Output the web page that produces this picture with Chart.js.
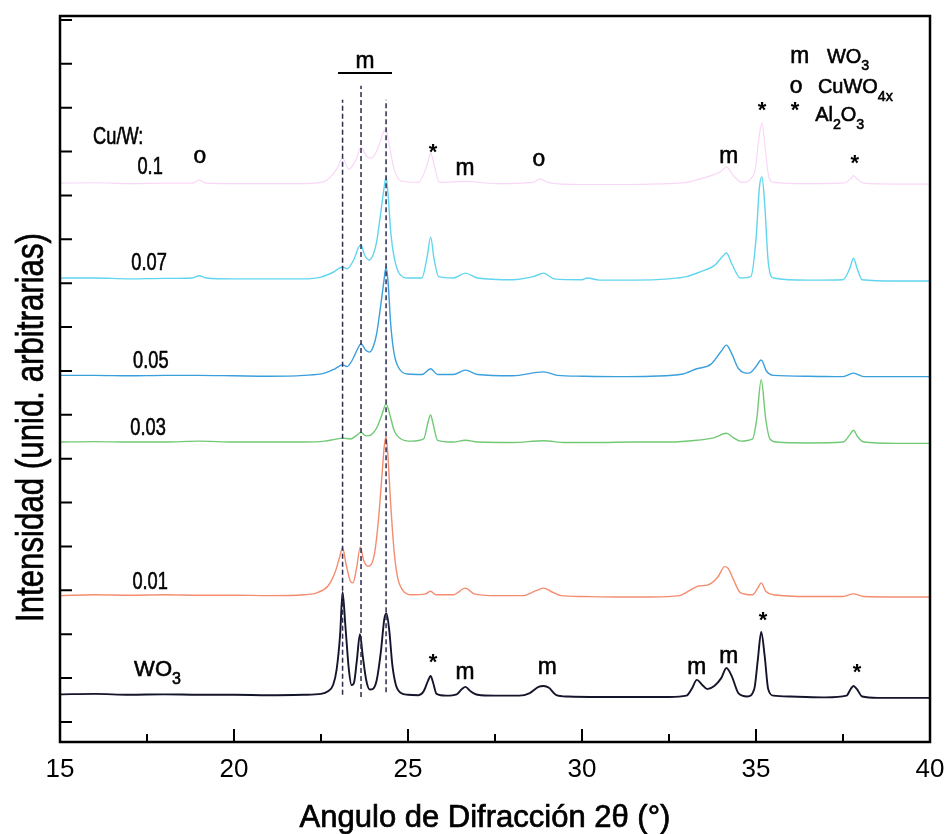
<!DOCTYPE html>
<html>
<head>
<meta charset="utf-8">
<script src="https://cdn.jsdelivr.net/npm/chart.js@4.4.1/dist/chart.umd.min.js"></script>
<style>
  html, body { margin: 0; padding: 0; background: #fff; }
  #wrap { width: 946px; height: 834px; }
</style>
</head>
<body>
<div id="wrap"><canvas id="xrd" width="946" height="834"></canvas></div>
<script>
// Difractogramas desplazados verticalmente, [2θ, intensidad]
const pWO3 = [[15,0.63],[16,0.64],[17,0.62],[18,0.63],[19,0.62],[20,0.62],[21,0.61],[22,0.62],[22.5,0.64],[22.7,0.7],[22.85,0.85],[22.95,1.2],[23.05,2.0],[23.12,2.96],[23.2,2.2],[23.3,1.2],[23.38,0.84],[23.45,0.9],[23.53,1.4],[23.62,2.0],[23.7,1.5],[23.8,0.95],[23.9,0.74],[24.0,0.76],[24.1,0.95],[24.22,1.6],[24.32,2.35],[24.38,2.48],[24.46,2.1],[24.55,1.3],[24.65,0.85],[24.8,0.66],[25.0,0.62],[25.3,0.61],[25.45,0.7],[25.58,0.95],[25.65,1.05],[25.72,0.9],[25.82,0.64],[26.1,0.6],[26.4,0.63],[26.55,0.75],[26.65,0.8],[26.8,0.7],[27.0,0.62],[27.5,0.6],[28.2,0.6],[28.5,0.66],[28.75,0.8],[28.9,0.82],[29.05,0.78],[29.25,0.62],[29.6,0.58],[30.5,0.57],[31.5,0.57],[32.5,0.57],[33.0,0.6],[33.15,0.75],[33.3,0.96],[33.45,0.85],[33.6,0.75],[33.8,0.82],[34.0,1.0],[34.15,1.23],[34.3,1.05],[34.5,0.65],[34.75,0.58],[34.95,0.75],[35.05,1.4],[35.15,2.05],[35.25,1.5],[35.35,0.75],[35.5,0.6],[36,0.58],[37.0,0.56],[37.6,0.6],[37.72,0.75],[37.8,0.82],[37.9,0.75],[38.05,0.58],[38.5,0.55],[39,0.55],[40,0.55]];
const p001 = [[15,2.88],[16,2.9],[17,2.89],[18,2.9],[19,2.89],[20,2.89],[21,2.88],[22,2.9],[22.4,2.95],[22.7,3.1],[22.9,3.4],[23.05,3.8],[23.12,3.97],[23.22,3.6],[23.35,3.2],[23.42,3.17],[23.52,3.5],[23.63,3.99],[23.72,3.7],[23.85,3.55],[23.95,3.6],[24.05,3.9],[24.15,4.6],[24.25,5.6],[24.32,6.3],[24.37,6.5],[24.42,6.1],[24.5,5.0],[24.6,3.9],[24.7,3.3],[24.85,3.0],[25.1,2.9],[25.5,2.92],[25.65,2.98],[25.8,2.9],[26.3,2.9],[26.65,3.05],[26.9,2.92],[27.5,2.88],[28.3,2.88],[28.7,3.0],[28.9,3.05],[29.1,2.98],[29.4,2.88],[30,2.86],[31,2.85],[32,2.85],[32.8,2.88],[33.1,3.0],[33.35,3.1],[33.6,3.12],[33.9,3.3],[34.1,3.54],[34.2,3.5],[34.35,3.25],[34.55,2.95],[34.9,2.9],[35.05,3.05],[35.15,3.17],[35.28,2.98],[35.5,2.9],[36.5,2.86],[37.5,2.86],[37.8,2.92],[38.1,2.86],[39,2.85],[40,2.85]];
const p003 = [[15,6.38],[16,6.39],[17,6.38],[18,6.38],[19,6.4],[20,6.38],[21,6.38],[22,6.38],[22.6,6.4],[22.9,6.44],[23.12,6.47],[23.35,6.45],[23.5,6.52],[23.65,6.6],[23.8,6.52],[23.95,6.55],[24.1,6.7],[24.25,7.0],[24.37,7.25],[24.48,7.0],[24.6,6.65],[24.8,6.45],[25.1,6.4],[25.45,6.45],[25.58,6.85],[25.65,7.0],[25.72,6.8],[25.85,6.42],[26.3,6.38],[26.65,6.42],[27,6.38],[28,6.37],[28.9,6.41],[29.5,6.37],[30.5,6.37],[31.5,6.38],[32.5,6.38],[33.3,6.42],[33.8,6.48],[34.15,6.58],[34.35,6.48],[34.55,6.4],[34.9,6.45],[35.02,6.9],[35.15,7.8],[35.28,6.9],[35.4,6.45],[35.6,6.38],[36.5,6.36],[37.5,6.38],[37.7,6.55],[37.8,6.65],[37.92,6.5],[38.1,6.38],[39,6.35],[40,6.35]];
const p005 = [[15,7.9],[16,7.9],[17,7.89],[18,7.9],[19,7.9],[20,7.89],[21,7.88],[22,7.9],[22.6,7.95],[22.9,8.05],[23.12,8.14],[23.25,8.1],[23.4,8.25],[23.55,8.5],[23.65,8.62],[23.78,8.48],[23.9,8.43],[24.0,8.55],[24.1,8.85],[24.2,9.4],[24.3,10.0],[24.37,10.37],[24.43,10.0],[24.5,9.1],[24.6,8.4],[24.75,8.05],[25.0,7.93],[25.4,7.92],[25.65,8.05],[25.85,7.92],[26.3,7.92],[26.65,8.02],[27,7.92],[28,7.89],[28.9,7.98],[29.3,7.9],[30,7.88],[31,7.87],[32,7.88],[32.9,7.93],[33.3,8.05],[33.7,8.15],[34.0,8.45],[34.15,8.59],[34.3,8.4],[34.5,8.05],[34.8,7.95],[35.0,8.1],[35.15,8.25],[35.3,8.0],[35.5,7.9],[36.5,7.88],[37.5,7.87],[37.8,7.95],[38.1,7.87],[39,7.87],[40,7.87]];
const p007 = [[15,10.12],[16,10.12],[17,10.1],[18,10.11],[18.8,10.12],[19.0,10.17],[19.2,10.12],[20,10.1],[21,10.1],[22,10.1],[22.5,10.14],[22.85,10.25],[23.12,10.37],[23.25,10.33],[23.45,10.55],[23.58,10.82],[23.65,10.87],[23.75,10.65],[23.88,10.53],[24.0,10.65],[24.1,10.95],[24.2,11.5],[24.3,12.1],[24.37,12.42],[24.43,12.0],[24.5,11.2],[24.6,10.6],[24.75,10.22],[25.0,10.12],[25.4,10.12],[25.55,10.6],[25.65,11.05],[25.75,10.55],[25.88,10.15],[26.3,10.12],[26.65,10.23],[27,10.12],[28,10.08],[28.6,10.15],[28.9,10.23],[29.2,10.1],[30,10.08],[30.15,10.12],[30.5,10.07],[31.5,10.07],[32.5,10.1],[33.0,10.15],[33.4,10.26],[33.8,10.4],[34.05,10.62],[34.15,10.69],[34.3,10.45],[34.55,10.12],[34.85,10.15],[35.0,11.0],[35.1,12.2],[35.17,12.42],[35.25,11.8],[35.35,10.5],[35.5,10.12],[36.5,10.07],[37.5,10.08],[37.7,10.35],[37.8,10.57],[37.92,10.3],[38.05,10.08],[39,10.05],[40,10.05]];
const p010 = [[15,12.28],[16,12.29],[17,12.27],[18,12.28],[18.8,12.28],[19.0,12.35],[19.2,12.28],[20,12.27],[21,12.27],[22,12.27],[22.6,12.32],[22.95,12.6],[23.12,12.85],[23.3,12.6],[23.5,12.8],[23.65,13.1],[23.8,12.9],[23.95,12.85],[24.15,13.1],[24.3,13.45],[24.37,13.5],[24.45,13.2],[24.6,12.6],[24.8,12.33],[25.3,12.3],[25.55,12.7],[25.65,12.97],[25.75,12.7],[25.9,12.3],[26.65,12.32],[27.5,12.27],[28.6,12.3],[28.8,12.38],[29.0,12.3],[30,12.25],[31,12.25],[32,12.26],[33,12.3],[33.5,12.4],[34.0,12.55],[34.15,12.65],[34.35,12.45],[34.6,12.3],[34.95,12.5],[35.1,13.4],[35.17,13.65],[35.25,13.2],[35.35,12.5],[35.5,12.3],[36.5,12.27],[37.5,12.28],[37.75,12.4],[37.8,12.45],[37.9,12.38],[38.1,12.28],[39,12.26],[40,12.26]];

// líneas de referencia de los picos m (2θ, extremo inferior, extremo superior)
const refAngles = [23.12, 23.65, 24.37];
const refBottoms = [0.62, 0.57, 0.68];
const refTops = [14.18, 14.5, 14.18];
const barSpan = [22.99, 24.54];
const barLevel = 14.79;

const xTicks = [15, 17.5, 20, 22.5, 25, 27.5, 30, 32.5, 35, 37.5, 40];
const yTicks = [0, 1, 2, 3, 4, 5, 6, 7, 8, 9, 10, 11, 12, 13, 14, 15, 16];

// textos: '_' marca subíndice
const curveLabels = ['Cu/W:', '0.1', '0.07', '0.05', '0.03', '0.01', 'WO_3'];
const topMarks = ['o', '*', 'm', 'o', 'm', '*', '*'];
const bottomMarks = ['*', 'm', 'm', 'm', 'm', '*', '*'];
const legendSymbols = ['m', 'o', '*'];
const legendNames = ['WO_3', 'CuWO_4x', 'Al_2O_3'];

// anclas de los textos en coordenadas de datos
const curveLabelAt = [[15.95, 13.33, 'left'], [17.59, 12.63], [17.56, 10.46], [17.61, 8.23], [17.53, 6.7], [17.59, 3.19], [17.13, 1.19, 'left']];
const topMarkAt = [[19.02, 12.92], [25.72, 12.94], [26.64, 12.65], [28.76, 12.85], [34.22, 12.92], [35.17, 13.9], [37.84, 12.69]];
const bottomMarkAt = [[25.72, 1.3], [26.64, 1.16], [29.0, 1.27], [33.3, 1.27], [34.22, 1.52], [35.2, 2.26], [37.9, 1.09]];
const legendAt = [[36.26, 15.2, 37.04, 15.16], [36.15, 14.5, 36.78, 14.47], [36.12, 13.9, 36.7, 13.83]];

const FONT = '"Liberation Sans", Arial, sans-serif';

function drawRich(ctx, str, px, py, size, align, sx) {
  const parts = str.split(/_([0-9a-z-]+)/);
  const fontFor = (sub) => `${sub ? Math.round(size * 0.72) : size}px ${FONT}`;
  let w = 0;
  parts.forEach((p, i) => { ctx.font = fontFor(i % 2 === 1); w += ctx.measureText(p).width; });
  ctx.save();
  ctx.translate(px, py);
  ctx.scale(sx, 1);
  let cx = align === 'left' ? 0 : -w / 2;
  ctx.textAlign = 'left';
  ctx.textBaseline = 'middle';
  ctx.lineWidth = 0.6;
  parts.forEach((p, i) => {
    const sub = i % 2 === 1;
    const dy = sub ? size * 0.45 : 0;
    ctx.font = fontFor(sub);
    ctx.fillText(p, cx, dy);
    ctx.strokeText(p, cx, dy);
    cx += ctx.measureText(p).width;
  });
  ctx.restore();
}

function drawMark(ctx, s, px, py) {
  if (s === '*') {
    // el asterisco se centra por su caja real
    ctx.save();
    ctx.font = `bold 22px ${FONT}`;
    ctx.textAlign = 'center';
    ctx.textBaseline = 'alphabetic';
    const m = ctx.measureText(s);
    const h = m.actualBoundingBoxAscent - m.actualBoundingBoxDescent;
    ctx.fillText(s, px, py + m.actualBoundingBoxAscent - h / 2);
    ctx.restore();
  } else {
    drawRich(ctx, s, px, py + 1, 24, 'center', 0.95);
  }
}

const xrdDecor = {
  id: 'xrdDecor',
  afterDraw(chart) {
    const { ctx, chartArea: a, scales: { x, y } } = chart;
    ctx.save();
    ctx.fillStyle = '#000';
    ctx.strokeStyle = '#000';

    // marco
    ctx.lineWidth = 2.5;
    ctx.strokeRect(a.left, a.top, a.right - a.left, a.bottom - a.top);

    // marcas interiores de los ejes
    ctx.lineWidth = 2;
    ctx.beginPath();
    x.ticks.forEach(t => {
      if (t.value <= x.min || t.value >= x.max) return;
      const px = x.getPixelForValue(t.value);
      const len = t.value % 5 === 0 ? 13 : 8;
      ctx.moveTo(px, a.bottom);
      ctx.lineTo(px, a.bottom - len);
    });
    y.ticks.forEach(t => {
      const py = y.getPixelForValue(t.value);
      ctx.moveTo(a.left, py);
      ctx.lineTo(a.left + 12, py);
    });
    ctx.stroke();

    // etiquetas de las curvas
    curveLabels.forEach((s, i) => {
      const [vx, vy, al] = curveLabelAt[i];
      const isWO = s.startsWith('WO');
      drawRich(ctx, s, x.getPixelForValue(vx), y.getPixelForValue(vy), isWO ? 22 : 24, al || 'center', isWO ? 1.0 : 0.76);
    });

    // fases identificadas
    topMarks.forEach((s, i) => drawMark(ctx, s, x.getPixelForValue(topMarkAt[i][0]), y.getPixelForValue(topMarkAt[i][1])));
    bottomMarks.forEach((s, i) => drawMark(ctx, s, x.getPixelForValue(bottomMarkAt[i][0]), y.getPixelForValue(bottomMarkAt[i][1])));
    drawMark(ctx, 'm', x.getPixelForValue((barSpan[0] + barSpan[1]) / 2), y.getPixelForValue(15.07));

    // leyenda de fases
    legendSymbols.forEach((s, i) => {
      const [sx, sy, tx, ty] = legendAt[i];
      drawMark(ctx, s, x.getPixelForValue(sx), y.getPixelForValue(sy));
      drawRich(ctx, legendNames[i], x.getPixelForValue(tx), y.getPixelForValue(ty), 21, 'left', 0.95);
    });

    // títulos de los ejes
    ctx.textBaseline = 'alphabetic';
    ctx.textAlign = 'center';
    ctx.lineWidth = 0.7;
    ctx.font = `31px ${FONT}`;
    const xt = 'Angulo de Difracción 2θ (°)';
    const cxT = (a.left + a.right) / 2 - 10;
    ctx.fillText(xt, cxT, 827);
    ctx.strokeText(xt, cxT, 827);

    ctx.save();
    ctx.translate(43, 622);
    ctx.rotate(-Math.PI / 2);
    ctx.textAlign = 'left';
    ctx.font = `39px ${FONT}`;
    const yt = 'Intensidad (unid. arbitrarias)';
    ctx.fillText(yt, 0, 0, 389);
    ctx.strokeText(yt, 0, 0, 389);
    ctx.restore();

    ctx.restore();
  }
};

const toXY = arr => arr.map(([x, y]) => ({ x, y }));

function trace(data, color, width) {
  return {
    data: toXY(data),
    borderColor: color,
    borderWidth: width,
    pointRadius: 0,
    cubicInterpolationMode: 'monotone',
    order: 2
  };
}

const datasets = [
  trace(p010, 'rgba(240,160,236,0.42)', 1.2),
  trace(p007, '#62d5ee', 1.4),
  trace(p005, '#3b9fdc', 1.4),
  trace(p003, '#72c975', 1.4),
  trace(p001, '#f48d70', 1.4),
  trace(pWO3, '#14142a', 1.9)
];

refAngles.forEach((v, i) => {
  datasets.push({
    data: [{ x: v, y: refBottoms[i] }, { x: v, y: refTops[i] }],
    borderColor: '#2c2c50',
    borderWidth: 1.5,
    borderDash: [5, 3],
    pointRadius: 0,
    order: 0
  });
});
datasets.push({
  data: [{ x: barSpan[0], y: barLevel }, { x: barSpan[1], y: barLevel }],
  borderColor: '#000',
  borderWidth: 2,
  pointRadius: 0,
  order: 0
});

new Chart(document.getElementById('xrd'), {
  type: 'line',
  data: { datasets },
  options: {
    responsive: false,
    animation: false,
    events: [],
    layout: { padding: { left: 0, right: 16, top: 16, bottom: 0 } },
    plugins: { legend: { display: false }, tooltip: { enabled: false } },
    scales: {
      x: {
        type: 'linear',
        min: 15,
        max: 40,
        afterFit: s => { s.height = 92; s.paddingLeft = 0; s.paddingRight = 0; },
        afterBuildTicks: s => { s.ticks = xTicks.map(value => ({ value })); },
        grid: { display: false, drawTicks: false },
        border: { display: false },
        ticks: {
          autoSkip: false,
          maxRotation: 0,
          padding: 12,
          color: '#000',
          font: { family: FONT, size: 26 },
          callback: v => (v % 5 === 0 ? String(v) : '')
        }
      },
      y: {
        type: 'linear',
        min: -0.456,
        max: 16.09,
        afterFit: s => { s.width = 60; s.paddingTop = 0; s.paddingBottom = 0; },
        afterBuildTicks: s => { s.ticks = yTicks.map(value => ({ value })); },
        grid: { display: false, drawTicks: false },
        border: { display: false },
        ticks: { display: false }
      }
    }
  },
  plugins: [xrdDecor]
});
</script>
</body>
</html>
